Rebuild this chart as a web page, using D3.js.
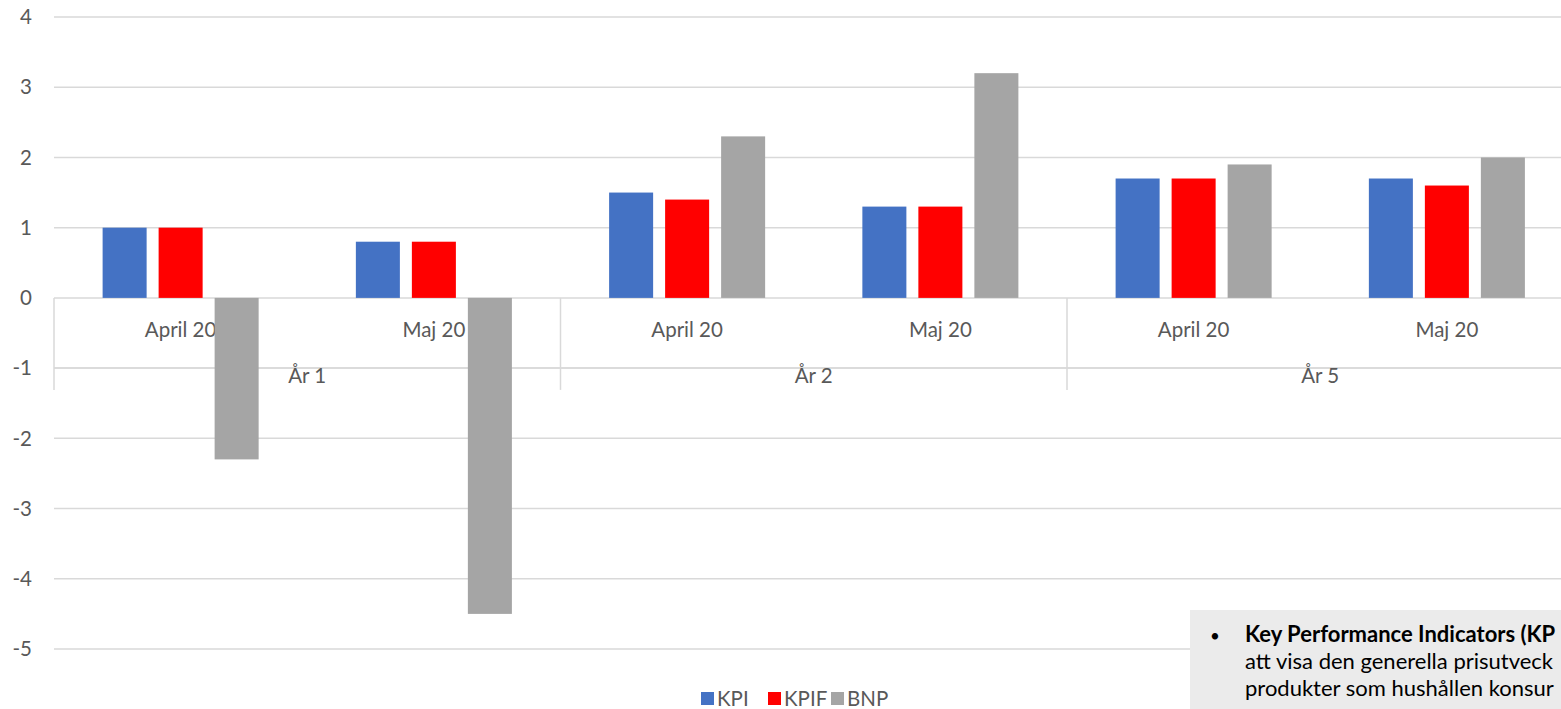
<!DOCTYPE html>
<html>
<head>
<meta charset="utf-8">
<script src="https://cdn.jsdelivr.net/npm/d3@7"></script>
<style>
    body { margin: 0; background: #fff; overflow: hidden; }
    svg { display: block; font-family: Lato, "Open Sans", sans-serif; }
</style>
</head>
<body>
<svg></svg>
<script>
//==========================================================================
// Data.

var groups = ["År 1", "År 2", "År 5"];
var months = ["April 20", "Maj 20"];
var seriesNames = ["KPI", "KPIF", "BNP"];
var seriesColors = ["#4472c4", "#ff0000", "#a5a5a5"];

// Values per group, per month, in series order.
var kpiValues  = [[1.0, 0.8], [1.5, 1.3], [1.7, 1.7]];
var kpifValues = [[1.0, 0.8], [1.4, 1.3], [1.7, 1.6]];
var bnpValues  = [[-2.3, -4.5], [2.3, 3.2], [1.9, 2.0]];

var yTicks = [4, 3, 2, 1, 0, -1, -2, -3, -4, -5];

// Note text as far as it is visible (it runs off the page).
var noteLines = [
    "Key Performance Indicators (KP",
    "att visa den generella prisutveck",
    "produkter som hushållen konsur"
];

var allValues = [kpiValues, kpifValues, bnpValues];

var data = [];
groups.forEach(function(g, gi) {
    months.forEach(function(m, mi) {
        seriesNames.forEach(function(s, si) {
            data.push({group: g, month: m, series: s, value: allValues[si][gi][mi]});
        });
    });
});

//==========================================================================
// Create the graphic elements.

var width = 1561, height = 709;
var fontSize = 20.5;
var svg = d3.select("svg").attr("width", width).attr("height", height);

var left = 54;
var groupWidth = 506.5;

var xGroup = d3.scaleBand()
    .domain(groups)
    .range([left, left + groupWidth * groups.length]);

var xMonth = d3.scaleBand()
    .domain(months)
    .range([0, groupWidth]);

var xSeries = d3.scaleBand()
    .domain(seriesNames)
    .range([0, xMonth.bandwidth()])
    .paddingInner(0.214)
    .paddingOuter(0.868);

var y = d3.scaleLinear()
    .domain([-5, 4])
    .range([649, 17]);

var color = d3.scaleOrdinal().domain(seriesNames).range(seriesColors);

// Gridlines and y labels.
svg.append("g")
    .selectAll("line")
    .data(yTicks)
    .enter()
    .append("line")
    .attr("x1", left)
    .attr("x2", width)
    .attr("y1", function(d) { return y(d); })
    .attr("y2", function(d) { return y(d); })
    .attr("stroke", "#d9d9d9")
    .attr("stroke-width", 1.5);

svg.append("g")
    .selectAll("text")
    .data(yTicks)
    .enter()
    .append("text")
    .attr("x", 32)
    .attr("y", function(d) { return y(d); })
    .attr("dy", "0.35em")
    .attr("text-anchor", "end")
    .attr("fill", "#595959")
    .attr("font-size", fontSize)
    .text(function(d) { return d; });

// Category axis box.
var axisG = svg.append("g");
var y0 = y(0);
var axisMid = y0 + 70;
var axisBottom = y0 + 92;

axisG.append("line")
    .attr("x1", left).attr("x2", width)
    .attr("y1", axisMid).attr("y2", axisMid)
    .attr("stroke", "#d9d9d9").attr("stroke-width", 1.5);

axisG.selectAll(".sep")
    .data(groups)
    .enter()
    .append("line")
    .attr("x1", function(d) { return xGroup(d); })
    .attr("x2", function(d) { return xGroup(d); })
    .attr("y1", y0)
    .attr("y2", axisBottom)
    .attr("stroke", "#d9d9d9").attr("stroke-width", 1.5);

groups.forEach(function(g) {
    axisG.selectAll(null)
        .data(months)
        .enter()
        .append("text")
        .attr("x", function(m) { return xGroup(g) + xMonth(m) + xMonth.bandwidth() / 2; })
        .attr("y", y0 + 39)
        .attr("text-anchor", "middle")
        .attr("fill", "#595959")
        .attr("font-size", fontSize)
        .text(function(m) { return m; });

    axisG.append("text")
        .attr("x", xGroup(g) + groupWidth / 2)
        .attr("y", y0 + 85)
        .attr("text-anchor", "middle")
        .attr("fill", "#595959")
        .attr("font-size", fontSize)
        .text(g);
});

// Bars.
svg.append("g")
    .selectAll("rect")
    .data(data)
    .enter()
    .append("rect")
    .attr("x", function(d) { return xGroup(d.group) + xMonth(d.month) + xSeries(d.series); })
    .attr("width", xSeries.bandwidth())
    .attr("y", function(d) { return y(Math.max(0, d.value)); })
    .attr("height", function(d) { return Math.abs(y(d.value) - y(0)); })
    .attr("fill", function(d) { return color(d.series); });

// Legend.
var legendX = [701, 768, 831];
var legend = svg.append("g")
    .selectAll("g")
    .data(seriesNames)
    .enter()
    .append("g")
    .attr("transform", function(d, i) { return "translate(" + legendX[i] + ",692)"; });

legend.append("rect")
    .attr("width", 13).attr("height", 13)
    .attr("fill", function(d) { return color(d); });

legend.append("text")
    .attr("x", 16)
    .attr("y", 6.5)
    .attr("dy", "0.36em")
    .attr("fill", "#595959")
    .attr("font-size", fontSize)
    .text(function(d) { return d; });

// Note box.
var note = svg.append("g").attr("transform", "translate(1190,610)");
note.append("rect")
    .attr("width", 400).attr("height", 110)
    .attr("fill", "#ebebeb");
note.append("text")
    .attr("x", 20).attr("y", 32)
    .attr("font-size", 17)
    .attr("fill", "#000")
    .text("•");
note.selectAll(".line")
    .data(noteLines)
    .enter()
    .append("text")
    .attr("x", 55)
    .attr("y", function(d, i) { return 32 + i * 27; })
    .attr("font-size", 22)
    .attr("font-weight", function(d, i) { return i === 0 ? "bold" : "normal"; })
    .attr("fill", "#000")
    .text(function(d) { return d; });
</script>
</body>
</html>
